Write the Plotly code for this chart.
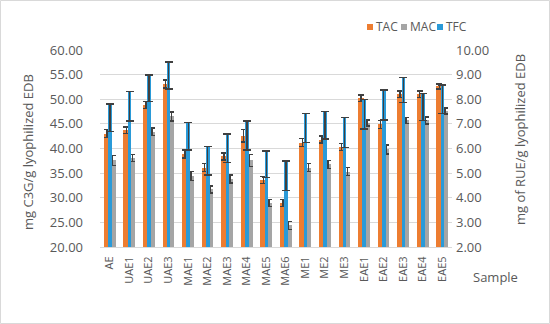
import plotly.graph_objects as go

samples = ["AE", "UAE1", "UAE2", "UAE3", "MAE1", "MAE2", "MAE3", "MAE4", "MAE5", "MAE6",
           "ME1", "ME2", "ME3", "EAE1", "EAE2", "EAE3", "EAE4", "EAE5"]
tac = [43.0, 43.7, 48.8, 53.1, 38.9, 36.1, 38.4, 42.6, 33.6, 28.9,
       41.2, 41.8, 40.3, 50.2, 44.9, 51.0, 51.0, 52.6]
tac_err = [0.8, 0.7, 0.7, 0.8, 0.8, 0.8, 0.7, 1.3, 0.7, 0.7,
           0.8, 0.7, 0.7, 0.7, 0.8, 0.7, 0.7, 0.5]
mac = [37.6, 38.1, 43.4, 46.5, 34.4, 31.7, 33.8, 37.6, 28.9, 24.4,
       36.1, 36.8, 35.3, 45.2, 39.8, 45.7, 45.7, 47.6]
mac_err = [1.0, 0.7, 0.8, 0.9, 0.9, 0.7, 0.8, 1.2, 0.7, 0.8,
           0.8, 0.8, 0.8, 0.6, 0.9, 0.6, 0.7, 0.6]
tfc = [7.80, 8.31, 8.98, 9.52, 7.06, 6.07, 6.59, 7.12, 5.90, 5.49,
       7.43, 7.49, 7.25, 8.00, 8.37, 8.89, 8.24, 8.58]
tfc_err_minus = [1.11, 1.19, 1.08, 1.10, 1.12, 1.15, 1.17, 1.18, 1.07, 1.20,
                 1.18, 1.10, 1.20, 1.21, 1.21, 1.03, 1.11, 1.15]
series_names = ["TAC", "MAC", "TFC"]

ORANGE = "#ED7D31"
GRAY = "#A5A5A5"
BLUE = "#2A9AD8"
ERR = "#404040"
TXT = "#595959"
FONT = "Open Sans"
colors = [ORANGE, GRAY, BLUE]

fig = go.Figure()
fig.add_trace(go.Bar(
    x=samples, y=tac, name=series_names[0], marker=dict(color=ORANGE, line=dict(width=0)),
    width=0.3, offset=-0.3, yaxis="y",
    error_y=dict(type="data", array=tac_err, color=ERR, thickness=1.4, width=3),
))
fig.add_trace(go.Bar(
    x=samples, y=mac, name=series_names[1], marker=dict(color=GRAY, line=dict(width=0)),
    width=0.3, offset=0.0, yaxis="y",
    error_y=dict(type="data", array=mac_err, color=ERR, thickness=1.4, width=3),
))
fig.add_trace(go.Bar(
    x=samples, y=tfc, name=series_names[2], marker=dict(color=BLUE, line=dict(width=0)),
    width=0.18, offset=-0.08, yaxis="y2",
    error_y=dict(type="data", symmetric=False, array=[0.001] * len(tfc),
                 arrayminus=tfc_err_minus, color=ERR, thickness=1.4, width=4),
))

L, R, T, B = 100, 98, 50, 77
W, H = 550, 324
pw, ph = W - L - R, H - T - B

def px(xp):
    return (xp - L) / pw

def py(yp):
    return (H - B - yp) / ph

annotations = [
    dict(text="mg C3G/g lyophilized EDB", x=px(28), y=py(152), xref="paper", yref="paper",
         textangle=-90, showarrow=False, font=dict(size=13, color=TXT),
         xanchor="center", yanchor="middle"),
    dict(text="mg of RUE/g lyophilized EDB", x=px(520), y=py(140), xref="paper", yref="paper",
         textangle=-90, showarrow=False, font=dict(size=13, color=TXT),
         xanchor="center", yanchor="middle"),
    dict(text="Sample", x=px(495), y=py(277), xref="paper", yref="paper",
         showarrow=False, font=dict(size=13, color=TXT),
         xanchor="center", yanchor="middle"),
]
shapes = [dict(type="rect", xref="paper", yref="paper",
               x0=px(0.5), x1=px(W - 0.5), y0=py(H - 0.5), y1=py(0.5),
               line=dict(color="#D9D9D9", width=1), layer="below")]

# manual legend (Excel-style, top right)
leg_x = [367, 401, 437]
leg_y = 27
for name, col, lx in zip(series_names, colors, leg_x):
    shapes.append(dict(type="rect", xref="paper", yref="paper",
                       x0=px(lx), x1=px(lx + 6), y0=py(leg_y + 3), y1=py(leg_y - 3),
                       fillcolor=col, line=dict(width=0)))
    annotations.append(dict(text=name, x=px(lx + 7), y=py(leg_y), xref="paper", yref="paper",
                            showarrow=False, font=dict(size=12, color=TXT),
                            xanchor="left", yanchor="middle"))

fig.update_layout(
    width=W, height=H,
    margin=dict(l=L, r=R, t=T, b=B, autoexpand=False),
    paper_bgcolor="white", plot_bgcolor="white",
    font=dict(family=FONT, color=TXT),
    barmode="overlay",
    bargap=0,
    showlegend=False,
    xaxis=dict(type="category", tickangle=-90, tickfont=dict(size=11, color=TXT),
               showgrid=False, showline=True, linecolor="#D9D9D9", linewidth=1,
               ticks="", range=[-0.5, len(samples) - 0.5], ticklabelstandoff=4),
    yaxis=dict(range=[20, 60], dtick=5, tickformat=".2f", tickfont=dict(size=13, color=TXT),
               showgrid=True, gridcolor="#D9D9D9", gridwidth=1, zeroline=False,
               showline=False, ticks="", ticklabelstandoff=16),
    yaxis2=dict(range=[2, 10], dtick=1, tickformat=".2f", tickfont=dict(size=13, color=TXT),
                overlaying="y", side="right", showgrid=False, zeroline=False,
                showline=False, ticks="", ticklabelstandoff=3),
    annotations=annotations,
    shapes=shapes,
)

fig.write_html("out.html", config={"displayModeBar": False},
               post_script="document.body.style.margin='0';document.body.style.overflow='hidden';")
